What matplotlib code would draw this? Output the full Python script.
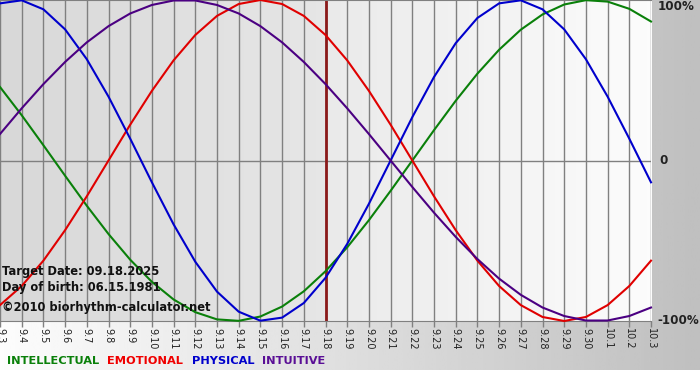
import numpy as np
import matplotlib
matplotlib.use("Agg")
import matplotlib.pyplot as plt

# day labels shown under the chart (09.03 .. 10.03)
days = ['9.3', '9.4', '9.5', '9.6', '9.7', '9.8', '9.9', '9.10', '9.11', '9.12',
        '9.13', '9.14', '9.15', '9.16', '9.17', '9.18', '9.19', '9.20', '9.21', '9.22',
        '9.23', '9.24', '9.25', '9.26', '9.27', '9.28', '9.29', '9.30', '10.1', '10.2', '10.3']
target_idx = 15  # 9.18

# cycle values, -1 .. 1, one per day
intellectual = [0.458, 0.282, 0.095, -0.095, -0.282, -0.458, -0.618, -0.756, -0.866, -0.945,
                -0.990, -0.999, -0.972, -0.910, -0.815, -0.690, -0.541, -0.372, -0.189, 0.0,
                0.189, 0.372, 0.541, 0.690, 0.815, 0.910, 0.972, 0.999, 0.990, 0.945, 0.866]
emotional = [-0.901, -0.782, -0.624, -0.434, -0.223, 0.0, 0.223, 0.434, 0.624, 0.782,
             0.901, 0.975, 1.0, 0.975, 0.901, 0.782, 0.624, 0.434, 0.223, 0.0,
             -0.223, -0.434, -0.624, -0.782, -0.901, -0.975, -1.0, -0.975, -0.901, -0.782, -0.624]
physical = [0.979, 0.998, 0.942, 0.817, 0.631, 0.398, 0.136, -0.136, -0.398, -0.631,
            -0.817, -0.942, -0.998, -0.979, -0.888, -0.731, -0.520, -0.270, 0.0, 0.270,
            0.520, 0.731, 0.888, 0.979, 0.998, 0.942, 0.817, 0.631, 0.398, 0.136, -0.136]
intuitive = [0.165, 0.325, 0.476, 0.614, 0.736, 0.837, 0.916, 0.969, 0.997, 0.997,
             0.969, 0.916, 0.837, 0.736, 0.614, 0.476, 0.325, 0.165, 0.0, -0.165,
             -0.325, -0.476, -0.614, -0.736, -0.837, -0.916, -0.969, -0.997, -0.997, -0.969, -0.916]

series = [("INTELLECTUAL", intellectual, "#0a800a", "#0a800a"),
          ("EMOTIONAL", emotional, "#e00000", "#f00000"),
          ("PHYSICAL", physical, "#0000cc", "#0000cc"),
          ("INTUITIVE", intuitive, "#4b0082", "#5a0f96")]

W, H = 700, 380
fig = plt.figure(figsize=(7, 3.8), dpi=100)

# page background: horizontal white -> gray gradient, white strip at the very bottom
bg = fig.add_axes([0, 10 / H, 1, 1 - 10 / H], zorder=-10)
grad = np.linspace(0.99, 0.75, 256).reshape(1, -1)
bg.imshow(grad, cmap="gray", vmin=0, vmax=1, aspect="auto", extent=[0, 1, 0, 1])
bg.set_axis_off()

ax = fig.add_axes([0, (H - 321) / H, 651 / W, 321 / H])
x = np.arange(len(days))

# plot area shading: past days darker, future days lighter
left_grad = np.linspace(0.845, 0.90, 64).reshape(1, -1)
right_grad = np.linspace(0.915, 0.985, 64).reshape(1, -1)
ax.imshow(left_grad, cmap="gray", vmin=0, vmax=1, aspect="auto",
          extent=[0, target_idx, -1, 1], zorder=0)
ax.imshow(right_grad, cmap="gray", vmin=0, vmax=1, aspect="auto",
          extent=[target_idx, len(days) - 1, -1, 1], zorder=0)

ax.set_xlim(0, len(days) - 1)
ax.set_ylim(-1, 1)
ax.set_xticks(x)
ax.set_xticklabels(days, rotation=270, fontsize=7, color="#222222")
ax.set_yticks([])
ax.tick_params(axis="x", length=4, width=1, color="#808080", pad=1)
ax.grid(axis="x", color="#808080", lw=1, zorder=1)
ax.axhline(0, color="#808080", lw=1, zorder=1)
for side in ["top", "bottom"]:
    ax.spines[side].set_color("#808080")
for side in ["left", "right"]:
    ax.spines[side].set_visible(False)

ax.axvline(target_idx, color="#8b1a1a", lw=2, zorder=2)

for name, vals, col, _ in series:
    ax.plot(x, vals, color=col, lw=1.5, zorder=3, clip_on=False)

# right-hand scale labels
tr = ax.get_yaxis_transform()
ax.text(1.01, 1.0, "100%", transform=tr, va="top", ha="left", fontsize=8.6, weight="bold", color="#222222")
ax.text(1.013, 0.0, "0", transform=tr, va="center", ha="left", fontsize=8.6, weight="bold", color="#222222")
ax.text(1.01, -1.0, "-100%", transform=tr, va="center", ha="left", fontsize=8.6, weight="bold", color="#222222")

# info text in the lower-left corner
info = ["Target Date: 09.18.2025", "Day of birth: 06.15.1981", "\u00a92010 biorhythm-calculator.net"]
info_y = [272, 287, 307]
for t, yy in zip(info, info_y):
    fig.text(2 / W, 1 - yy / H, t, fontsize=8.3, weight="bold", color="#111111", va="center", ha="left")

# colored legend words
legend_x = [7, 107, 192, 262]
for (name, _, _, lc), lx in zip(series, legend_x):
    fig.text(lx / W, 1 - 361 / H, name, fontsize=8.2, weight="bold", color=lc, va="center", ha="left")

fig.savefig("out.png", dpi=100)
